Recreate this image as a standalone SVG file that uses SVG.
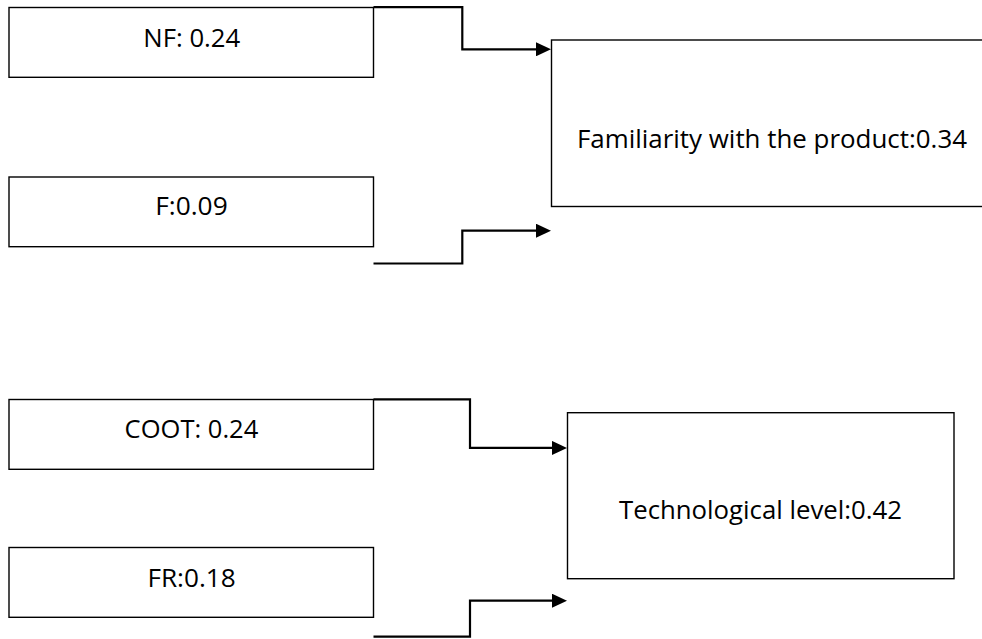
<svg xmlns="http://www.w3.org/2000/svg" width="982" height="639" viewBox="0 0 982 639">
<style>
.box{fill:#fff;stroke:#000;stroke-width:1.4}
.lbl{font-family:"Open Sans","Liberation Sans",sans-serif;font-size:26px;fill:#000}
.conn{fill:none;stroke:#000;stroke-width:2.2}
</style>
<defs>
<marker id="arr" markerUnits="userSpaceOnUse" viewBox="0 0 15 14" refX="0" refY="7" markerWidth="15" markerHeight="14" orient="auto">
<path d="M0,0 L15,7 L0,14 z" fill="#000"/>
</marker>
</defs>
<rect width="982" height="639" fill="#fff"/>
<g id="nf">
<rect class="box" x="9" y="7.5" width="364.5" height="69.8"/>
<text class="lbl" x="143.3" y="46.7" textLength="97" lengthAdjust="spacingAndGlyphs">NF: 0.24</text>
</g>
<g id="f">
<rect class="box" x="9" y="177" width="364.5" height="69.7"/>
<text class="lbl" x="155.2" y="215" textLength="72.5" lengthAdjust="spacingAndGlyphs">F:0.09</text>
</g>
<g id="familiarity">
<rect class="box" x="551.5" y="40" width="450" height="166.5"/>
<text class="lbl" x="577" y="148" textLength="390" lengthAdjust="spacingAndGlyphs">Familiarity with the product:0.34</text>
</g>
<g id="coot">
<rect class="box" x="9" y="399.5" width="364.5" height="69.8"/>
<text class="lbl" x="124.6" y="438.3" textLength="133.7" lengthAdjust="spacingAndGlyphs">COOT: 0.24</text>
</g>
<g id="fr">
<rect class="box" x="9" y="547.5" width="364.5" height="69.8"/>
<text class="lbl" x="147.4" y="586.7" textLength="88.3" lengthAdjust="spacingAndGlyphs">FR:0.18</text>
</g>
<g id="tech">
<rect class="box" x="567.5" y="412.7" width="386.5" height="166"/>
<text class="lbl" x="619" y="519" textLength="283" lengthAdjust="spacingAndGlyphs">Technological level:0.42</text>
</g>
<g id="connectors">
<path class="conn" d="M373.5,7.2 H462.3 V49.3 H536" marker-end="url(#arr)"/>
<path class="conn" d="M373.5,263.5 H462.3 V230.7 H536" marker-end="url(#arr)"/>
<path class="conn" d="M373.5,399.3 H470 V447.9 H552" marker-end="url(#arr)"/>
<path class="conn" d="M373.5,636.7 H470 V600.7 H552" marker-end="url(#arr)"/>
</g>
</svg>
